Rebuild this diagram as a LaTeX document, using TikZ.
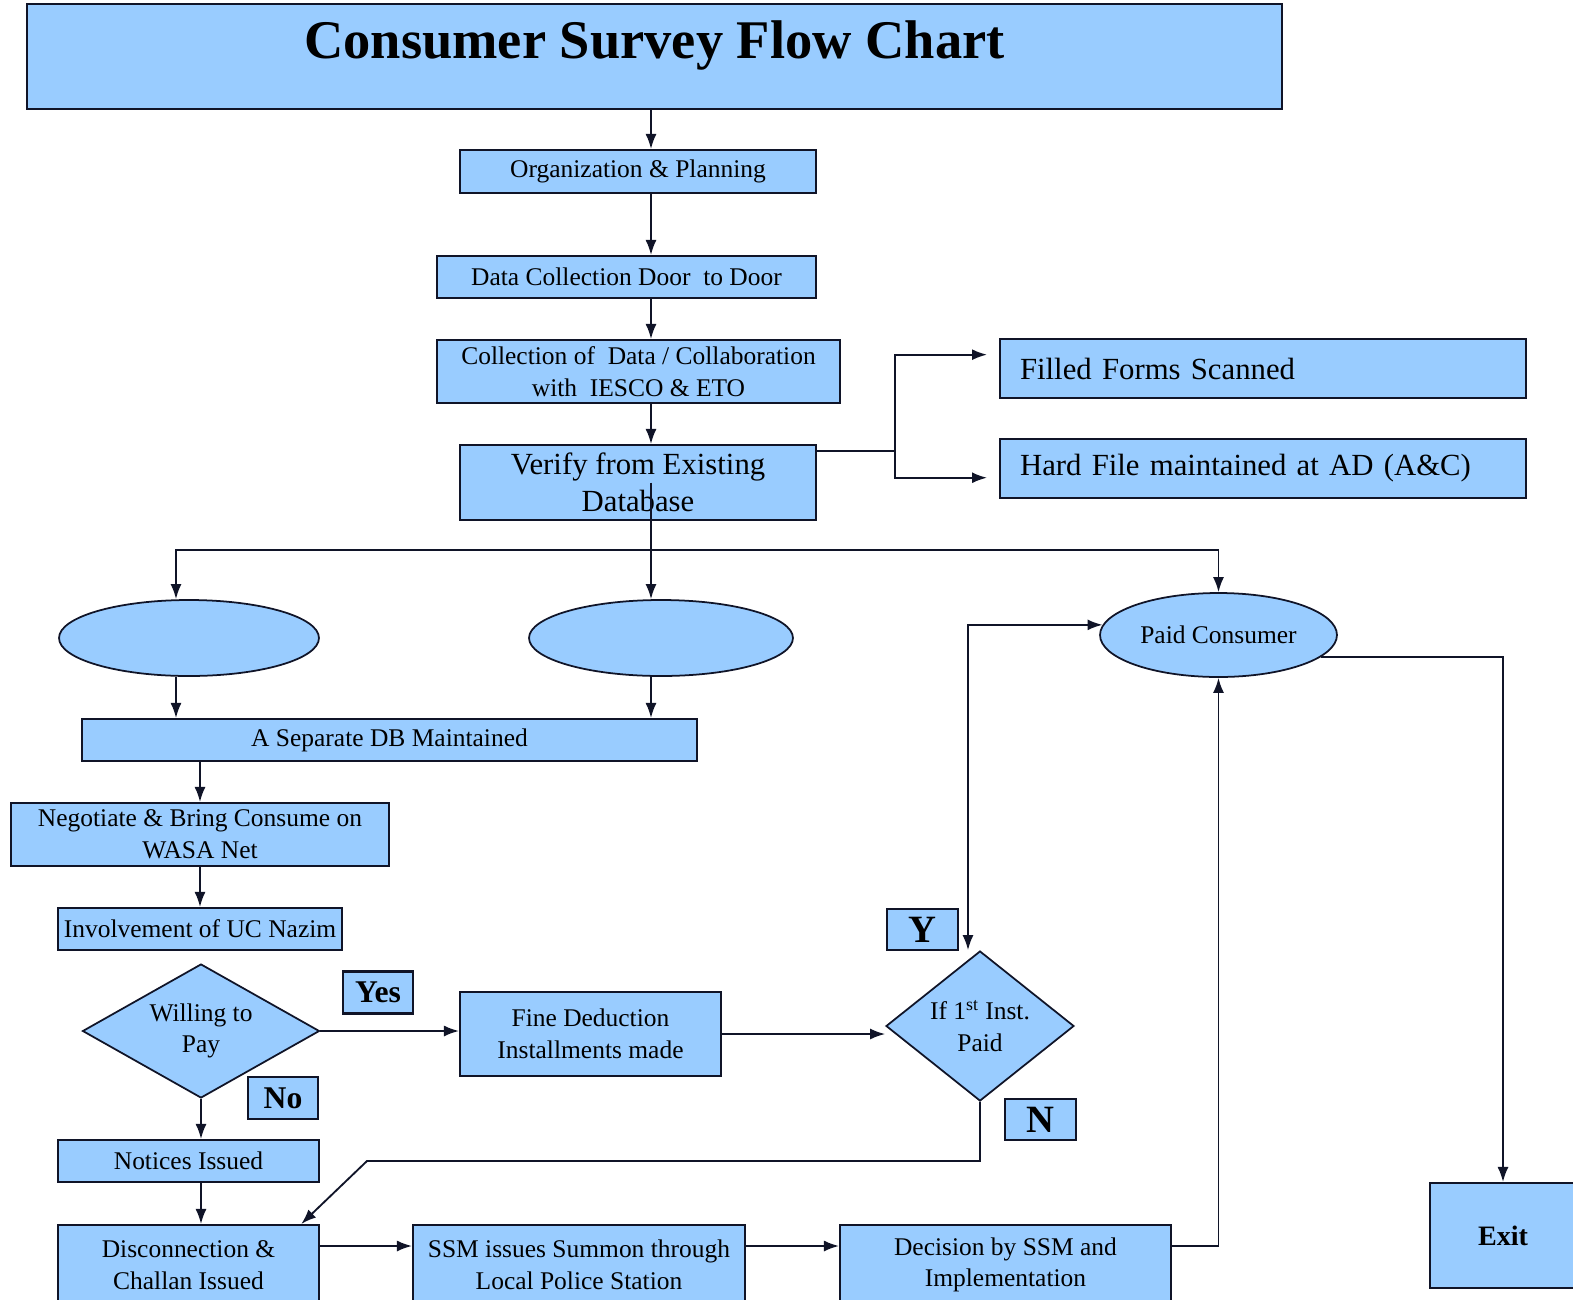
\documentclass[tikz,border=0pt]{standalone}
\usepackage{fontspec}
\setmainfont{Liberation Serif}
\usepackage{tikz}
\usetikzlibrary{arrows.meta, positioning, shapes.geometric, calc}
\usepackage{xcolor}
\definecolor{boxblue}{RGB}{153, 204, 255}
\definecolor{edgeink}{RGB}{16, 20, 40}

\begin{document}
\begin{tikzpicture}[
    x=0.02cm, y=-0.02cm,
    base/.style={draw=edgeink, fill=boxblue, line width=1.2pt, inner sep=2pt,
                 align=center, font=\fontsize{14.5}{18}\selectfont},
    procbox/.style={base, rectangle},
    sidebox/.style={base, rectangle, minimum width=10.52cm, minimum height=1.18cm,
                    text width=9.72cm, inner xsep=0.4cm, align=left,
                    font=\fontsize{17.5}{21}\selectfont},
    oval/.style={base, ellipse, line width=1pt},
    choice/.style={base, diamond, inner sep=0pt, line width=1pt},
    tagbox/.style={base, font=\bfseries\fontsize{18}{20}\selectfont,
                   minimum width=1.4cm, minimum height=0.84cm, inner sep=0pt},
    arrow/.style={-{Latex[length=0.3cm, width=0.22cm]}, line width=1.05pt, edgeink},
    twoway/.style={arrow, {Latex[length=0.3cm, width=0.22cm]}-{Latex[length=0.3cm, width=0.22cm]}},
    link/.style={line width=1.05pt, edgeink},
  ]
    \path[use as bounding box, fill=white] (0,0) rectangle (1573,1299);

    % Title
    \node[procbox, minimum width=25.10cm, text height=1.08cm, text depth=1.02cm, inner ysep=0pt,
          font=\bfseries\fontsize{31}{36}\selectfont] (title) at (654.5,56.5) {Consumer Survey Flow Chart};

    % Survey steps
    \node[procbox, minimum width=7.12cm, minimum height=0.86cm] (org) at (638,171.5) {Organization \& Planning};
    \node[procbox, minimum width=7.58cm, minimum height=0.84cm] (door) at (626.5,277) {Data Collection Door\ \ to Door};
    \node[procbox, minimum width=8.06cm, minimum height=1.26cm] (collab) at (638.5,371.5) {Collection of\ \ Data / Collaboration\\with\ \ IESCO \& ETO};
    \node[procbox, minimum width=7.12cm, minimum height=1.5cm,
          font=\fontsize{17.5}{21}\selectfont] (verify) at (638,482.5) {Verify from Existing\\Database};

    % Records
    \node[sidebox] (scan) at (1263,368.5) {Filled Forms Scanned};
    \node[sidebox] (hardfile) at (1263,468.5) {Hard File maintained at AD (A\&C)};

    % Consumer groups
    \node[oval, minimum width=5.2cm, minimum height=1.52cm] (ovalA) at (189,638) {};
    \node[oval, minimum width=5.28cm, minimum height=1.52cm] (ovalB) at (661,638) {};
    \node[oval, minimum width=4.74cm, minimum height=1.68cm] (paid) at (1218.5,635) {Paid Consumer};

    % Defaulter path
    \node[procbox, minimum width=12.3cm, minimum height=0.84cm] (sepdb) at (389.5,740) {A Separate DB Maintained};
    \node[procbox, minimum width=7.56cm, minimum height=1.26cm] (negotiate) at (200,834.5) {Negotiate \& Bring Consume on\\WASA Net};
    \node[procbox, minimum width=5.68cm, minimum height=0.84cm, inner xsep=1pt] (nazim) at (200,929) {Involvement of UC Nazim};
    \node[choice, minimum width=4.74cm, minimum height=2.68cm, aspect=1.77] (willing) at (201,1031) {Willing to\\Pay};
    \node[tagbox] (yes) at (378,992.5) {Yes};
    \node[tagbox] (no) at (283,1098) {No};
    \node[procbox, minimum width=5.22cm, minimum height=1.68cm] (fine) at (590.5,1034) {Fine Deduction\\Installments made};
    \node[choice, minimum width=3.76cm, minimum height=3cm, aspect=1.25] (paidq) at (980,1026) {If 1\textsuperscript{st} Inst.\\Paid};
    \node[tagbox, minimum width=1.42cm, minimum height=0.82cm,
          font=\bfseries\fontsize{22}{24}\selectfont] (ytag) at (922.5,929.5) {Y};
    \node[tagbox, minimum width=1.42cm, minimum height=0.82cm,
          font=\bfseries\fontsize{22}{24}\selectfont] (ntag) at (1040.5,1119.5) {N};
    \node[procbox, minimum width=5.22cm, minimum height=0.84cm] (notices) at (188.5,1161) {Notices Issued};
    \node[procbox, minimum width=5.22cm, minimum height=1.6cm] (discon) at (188.5,1265) {Disconnection \&\\Challan Issued};
    \node[procbox, minimum width=6.64cm, minimum height=1.6cm] (summon) at (579,1265) {SSM issues Summon through\\Local Police Station};
    \node[procbox, minimum width=6.62cm, minimum height=1.6cm] (decision) at (1005.5,1265) {Decision by SSM and\\Implementation};
    \node[procbox, minimum width=2.92cm, minimum height=2.1cm,
          font=\bfseries\fontsize{16}{19}\selectfont] (exit) at (1503,1235.5) {Exit};

    % Routing points
    \coordinate (spine) at (651,0);
    \coordinate (colA) at (176,0);
    \coordinate (split) at (651,550);
    \coordinate (fork) at (895,451);
    \coordinate (ycol) at (968,0);
    \coordinate (nbend) at (367,1161);
    \coordinate (row) at (0,1246);

    % Arrows
    \draw[arrow] (title.south -| spine) -- (org.north -| spine);
    \draw[arrow] (org.south -| spine) -- (door.north -| spine);
    \draw[arrow] (door.south -| spine) -- (collab.north -| spine);
    \draw[arrow] (collab.south -| spine) -- (verify.north -| spine);
    \draw[link] (verify.center -| spine) -- (split);
    \draw[arrow] (split) -| (ovalA.north -| colA);
    \draw[arrow] (split) -- (ovalB.north -| spine);
    \draw[arrow] (split) -| (paid.north);
    \draw[link] (verify.north east |- fork) -- (fork);
    \draw[arrow, shorten >=0.24cm] (fork) |- (scan.177);
    \draw[arrow, shorten >=0.24cm] (fork) |- (hardfile.182);
    \draw[arrow] (ovalA.south -| colA) -- (sepdb.north -| colA);
    \draw[arrow] (ovalB.south -| spine) -- (sepdb.north -| spine);
    \draw[arrow] (sepdb.south -| negotiate.north) -- (negotiate.north);
    \draw[arrow] (negotiate.south) -- (nazim.north);
    \draw[arrow] (willing.south) -- (willing.south |- notices.north);
    \draw[arrow] (notices.south -| willing.south) -- (discon.north -| willing.south);
    \draw[arrow] (willing.east) -- (willing.east -| fine.west);
    \draw[arrow] (fine.east) -- (fine.east -| paidq.west);
    \draw[twoway] (paidq.north -| ycol) |- (paid.175);
    \draw[arrow] (paidq.south) |- (nbend) -- (discon.20);
    \draw[arrow] (discon.east |- row) -- (summon.west |- row);
    \draw[arrow] (summon.east |- row) -- (decision.west |- row);
    \draw[arrow] (decision.east |- row) -| (paid.south);
    \draw[arrow] (paid.-12) -| (exit.north);
  \end{tikzpicture}
\end{document}
